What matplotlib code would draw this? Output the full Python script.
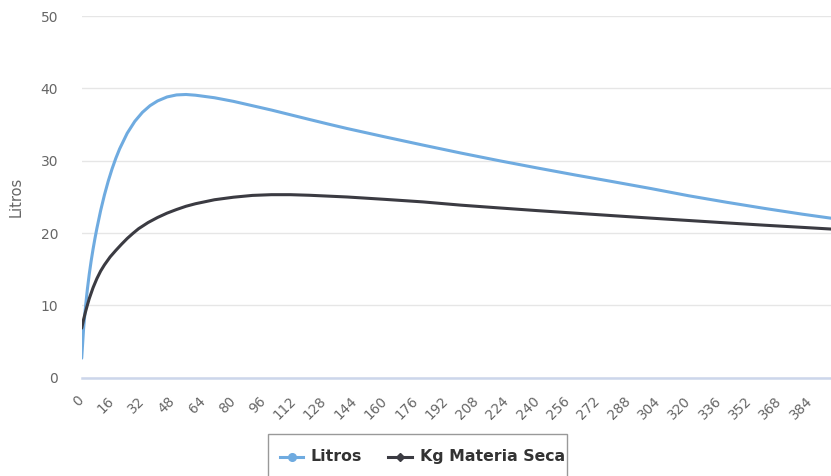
import matplotlib
matplotlib.use("Agg")
import matplotlib.pyplot as plt
from matplotlib.lines import Line2D
from matplotlib.patches import Rectangle

# Lactation curves: daily milk yield (litres) and dry-matter intake (kg)
series_names = ["Litros", "Kg Materia Seca"]
series_colors = ["#6fabe0", "#3b3b42"]

litros_days = [0, 1, 2, 3, 4, 5, 6, 7, 8, 10, 12, 14, 16, 18, 20, 24, 28, 32,
               36, 40, 45, 50, 55, 60, 70, 80, 90, 100, 110, 120, 130, 140,
               160, 180, 200, 220, 240, 260, 280, 300, 320, 340, 360, 380, 395]
litros_vals = [2.7, 6.8, 9.8, 12.25, 14.35, 16.17, 17.79, 19.27, 20.64, 23.12,
               25.28, 27.18, 28.86, 30.34, 31.64, 33.8, 35.44, 36.68, 37.6,
               38.26, 38.81, 39.09, 39.15, 39.05, 38.7, 38.2, 37.6, 37.0,
               36.35, 35.7, 35.06, 34.44, 33.28, 32.15, 31.05, 30.0, 29.0,
               28.03, 27.1, 26.15, 25.15, 24.25, 23.4, 22.6, 22.05]

ms_days = [0, 1, 2, 3, 4, 6, 8, 10, 12, 15, 18, 21, 24, 27, 30, 35, 40, 45,
           50, 55, 60, 70, 80, 90, 100, 110, 120, 140, 160, 180, 200, 220,
           240, 260, 280, 300, 320, 340, 360, 380, 395]
ms_vals = [6.85, 8.05, 9.1, 10.05, 10.95, 12.45, 13.7, 14.75, 15.6, 16.7, 17.6,
           18.45, 19.25, 19.95, 20.6, 21.45, 22.15, 22.75, 23.25, 23.7, 24.05,
           24.6, 24.95, 25.2, 25.3, 25.3, 25.22, 24.98, 24.65, 24.3, 23.85,
           23.47, 23.1, 22.75, 22.4, 22.06, 21.73, 21.4, 21.08, 20.78, 20.55]

x_ticks = list(range(0, 385, 16))
y_ticks = [0, 10, 20, 30, 40, 50]
y_title = "Litros"

W, H = 831, 476
fig = plt.figure(figsize=(W / 100, H / 100), dpi=100)
fig.patch.set_facecolor("white")

ax_left, ax_right = 81.7 / W, 1.0
ax_bottom, ax_top = (H - 377.7) / H, (H - 16.0) / H
ax = fig.add_axes([ax_left, ax_bottom, ax_right - ax_left, ax_top - ax_bottom])

ax.plot(litros_days, litros_vals, color=series_colors[0], lw=2.2,
        solid_capstyle="round", solid_joinstyle="round", zorder=3)
ax.plot(ms_days, ms_vals, color=series_colors[1], lw=2.2,
        solid_capstyle="round", solid_joinstyle="round", zorder=3)

ax.set_xlim(0, 395)
ax.set_ylim(0, 50)

for s in ["top", "right", "left"]:
    ax.spines[s].set_visible(False)
ax.spines["bottom"].set_color("#ccd6eb")
ax.spines["bottom"].set_linewidth(1.8)
ax.spines["bottom"].set_zorder(4)

ax.set_yticks(y_ticks)
ax.set_yticklabels([str(v) for v in y_ticks])
ax.grid(axis="y", color="#e6e6e6", lw=1.0)
ax.set_axisbelow(True)
ax.tick_params(axis="y", length=0, pad=17, labelsize=10, labelcolor="#666666")

ax.set_xticks(x_ticks)
ax.set_xticklabels([str(v) for v in x_ticks], rotation=45, ha="right",
                   va="center", rotation_mode="anchor")
ax.tick_params(axis="x", length=0, pad=15, labelsize=9.8, labelcolor="#666666")

fig.text(16 / W, (H - 197) / H, y_title, rotation=90, ha="center",
         va="center", fontsize=10.5, color="#666666")

# Legend box drawn at the bottom centre
box_l, box_r, box_t = 268.3, 567.3, 433.5
fig.patches.append(Rectangle((box_l / W, -0.05), (box_r - box_l) / W,
                             (H - box_t) / H + 0.05, transform=fig.transFigure,
                             facecolor="white", edgecolor="#999999", lw=1.0))
leg_y = (H - 456.5) / H
items = [(280, 303, 310, "o", 5.5), (388, 412, 420, "D", 4.5)]
for (x0, x1, xt, mk, ms), name, col in zip(items, series_names, series_colors):
    fig.lines.append(Line2D([x0 / W, x1 / W], [leg_y, leg_y],
                            transform=fig.transFigure, color=col, lw=2.2))
    fig.lines.append(Line2D([(x0 + x1) / 2 / W], [leg_y],
                            transform=fig.transFigure, color=col, marker=mk,
                            markersize=ms, lw=0))
    fig.text(xt / W, leg_y, name, ha="left", va="center", fontsize=11.3,
             fontweight="bold", color="#333333")

fig.savefig("out.png", dpi=100)
